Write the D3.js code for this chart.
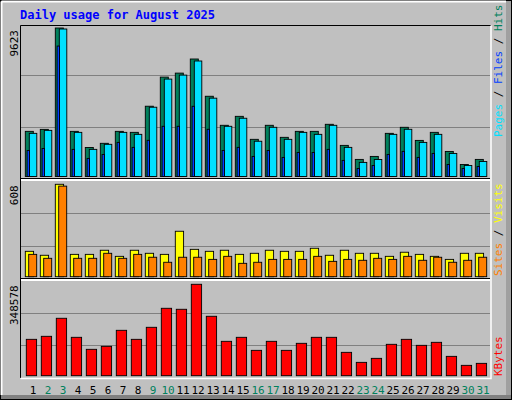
<!DOCTYPE html>
<html><head><meta charset="utf-8">
<script src="https://cdn.jsdelivr.net/npm/d3@7"></script>
<style>body{margin:0;background:#fff}text{font-family:"DejaVu Sans Mono",monospace}</style>
</head><body><svg id="chart" width="512" height="400"></svg>
<script>
const days = d3.range(1, 32);
const weekends = [2, 3, 9, 10, 16, 17, 23, 24, 30, 31];
const hits = [2880,3010,9623,2880,1830,2100,2880,2815,4520,6420,6680,7600,5170,3275,3860,2360,3275,2490,2880,2880,3340,1965,1050,1245,2750,3145,2290,2815,1570,720,1050];
const files = [2815,3010,9623,2880,1770,2100,2880,2750,4520,6355,6615,7535,5110,3275,3800,2300,3210,2425,2880,2750,3340,1900,920,1110,2750,3080,2225,2750,1505,720,980];
const pages = [1700,1830,8510,1770,1180,1440,2225,1900,2360,3275,3275,4580,3080,1700,1900,1310,1700,1245,1570,1570,1770,1050,520,720,1440,1640,1245,1505,785,520,655];
const visits = [167,141,608,147,147,174,134,174,154,147,299,180,167,174,147,154,174,167,167,187,141,174,154,154,134,161,147,134,114,154,154];
const sites = [147,121,596,121,121,154,121,147,128,95,128,128,114,134,88,95,114,114,114,134,101,114,108,121,114,134,108,128,95,108,128];
const kbytes = [138700,150200,219000,146400,100600,112000,173100,138700,184600,257100,253300,348578,226600,131100,146400,96700,131100,96700,123500,146400,146400,89100,50900,66200,119700,138700,115800,127300,73800,39500,47100];
const gridFrac = [1/3, 0.685];

const svg = d3.select('#chart');
const C = {hits:'#00805C', files:'#00E0FF', pages:'#0040FF', visits:'#FFFF00', sites:'#FF8000', kb:'#FF0000'};

// frame
svg.append('rect').attr('x',0.5).attr('y',0.5).attr('width',511).attr('height',399).attr('fill','#C0C0C0').attr('stroke','#000');
svg.append('rect').attr('x',506).attr('y',1).attr('width',5).attr('height',398).attr('fill','#a0a0a0');
svg.append('rect').attr('x',1).attr('y',395).attr('width',510).attr('height',4).attr('fill','#808080');
svg.append('line').attr('x1',1.5).attr('y1',1.5).attr('x2',506).attr('y2',1.5).attr('stroke','#fff').attr('stroke-width',2);
svg.append('line').attr('x1',1.5).attr('y1',1.5).attr('x2',1.5).attr('y2',395).attr('stroke','#fff').attr('stroke-width',2);

svg.append('text').attr('x',20).attr('y',19).attr('fill','#0000FF').attr('font-weight','bold').attr('font-size',12).text('Daily usage for August 2025');

const x = d3.scaleLinear().domain([1, 31]).range([25.3, 475.3]);

// plot area
svg.append('rect').attr('x',20.5).attr('y',25.5).attr('width',470).attr('height',352).attr('fill','#C0C0C0').attr('stroke','none');
svg.append('path').attr('d','M20.5,378V25.5H491').attr('stroke','#000').attr('fill','none');
svg.append('path').attr('d','M491,25.5V378.5H20.5').attr('stroke','#fff').attr('fill','none').attr('stroke-width',1.5);

function panel(y0, y1, max, sepY) {
  const y = d3.scaleLinear().domain([0, max]).range([y0, y1]);
  gridFrac.forEach(f => svg.append('line').attr('x1',21).attr('x2',490).attr('y1',Math.round(y(max*f))+0.5).attr('y2',Math.round(y(max*f))+0.5).attr('stroke','#808080'));
  if (sepY) {
    svg.append('line').attr('x1',21).attr('x2',490).attr('y1',sepY).attr('y2',sepY).attr('stroke','#000');
    svg.append('line').attr('x1',21).attr('x2',490).attr('y1',sepY+1.5).attr('y2',sepY+1.5).attr('stroke','#fff').attr('stroke-width',2);
  }
  svg.append('text').attr('transform',`translate(18,${y1+1}) rotate(-90)`).attr('text-anchor','end').attr('font-size',11).attr('fill','#000').text(max);
  return y;
}
function bars(y, vals, dx, w, color, dy) {
  svg.append('g').selectAll('rect').data(vals).join('rect')
    .attr('x', (d, i) => x(days[i]) + dx).attr('width', w)
    .attr('y', d => y(d) - (dy || 0)).attr('height', d => y(0) - y(d) + (dy || 0))
    .attr('fill', color).attr('stroke', '#000').attr('stroke-width', 0.9);
}

const yTop = panel(176.5, 29, 9623, 178.5);
bars(yTop, hits, 0, 8, C.hits, 1);
bars(yTop, files, 4, 7.5, C.files, 0);
bars(yTop, pages, 1.8, 2.4, C.pages, 0);

const yMid = panel(276.7, 184.3, 608, 278.5);
bars(yMid, visits, 0, 8.3, C.visits, 0);
bars(yMid, sites, 3.4, 8, C.sites, 0);

const yBot = panel(375.7, 284.3, 348578);
bars(yBot, kbytes, 1, 10.3, C.kb, 0);

svg.append('g').selectAll('text').data(days).join('text')
  .attr('x', d => x(d) + 7.8).attr('y', 394).attr('text-anchor','middle').attr('font-size',11)
  .attr('fill', d => weekends.includes(d) ? '#00805C' : '#000').text(d => d);

function legend(xp, yBottom, parts) {
  const t = svg.append('text').attr('transform',`translate(${xp},${yBottom}) rotate(-90)`).attr('font-size',11);
  parts.forEach(([s, c]) => t.append('tspan').attr('fill', c).text(s));
}
legend(502, 137, [['Pages','#00E0FF'],[' / ','#000'],['Files','#0040FF'],[' / ','#000'],['Hits','#00805C']]);
legend(502, 276, [['Sites','#FF8000'],[' / ','#000'],['Visits','#FFFF00']]);
legend(502, 376, [['KBytes','#FF0000']]);
</script></body></html>
